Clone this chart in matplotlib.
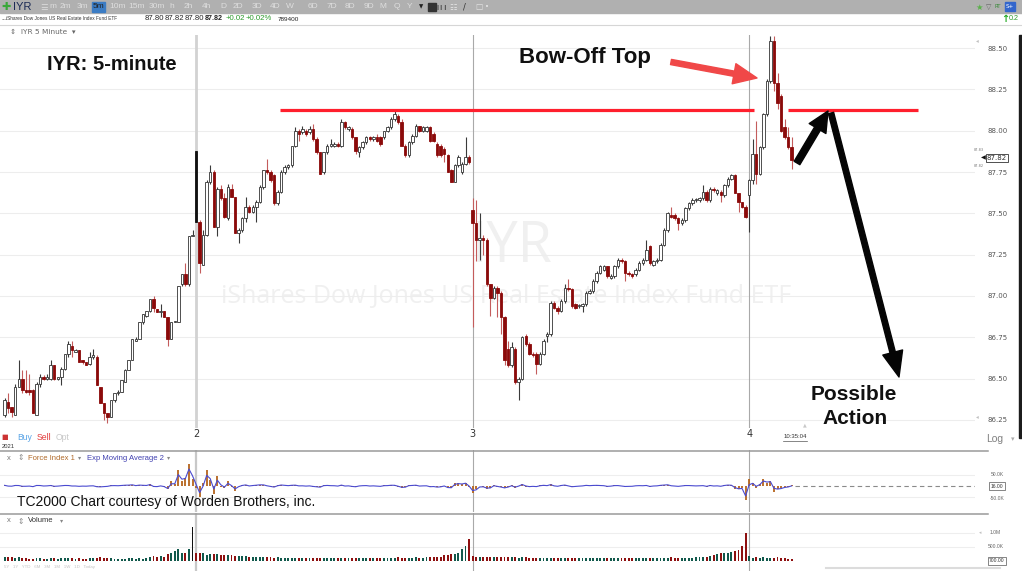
import numpy as np
import pandas as pd
import matplotlib
matplotlib.use("Agg")
import matplotlib.pyplot as plt
from matplotlib.patches import Rectangle

# ---------------- data (IYR 5-minute bars) ----------------
# day 1 (partial, 54 bars) | day 2 (78) | day 3 (78) | day 4 (13)
open_px = [
    86.28, 86.36, 86.33, 86.28, 86.45, 86.50, 86.43, 86.43, 86.43, 86.28,
    86.47, 86.51, 86.50, 86.50, 86.58, 86.50, 86.51, 86.56, 86.65, 86.70,
    86.66, 86.67, 86.61, 86.60, 86.59, 86.63, 86.63, 86.45, 86.35, 86.29,
    86.27, 86.37, 86.41, 86.42, 86.48, 86.55, 86.61, 86.73, 86.74, 86.84,
    86.88, 86.91, 86.98, 86.92, 86.90, 86.91, 86.87, 86.74, 86.84, 86.84,
    87.07, 87.13, 87.07, 87.36,
    87.88, 87.45, 87.19, 87.37, 87.69, 87.75, 87.42, 87.65, 87.59, 87.47,
    87.65, 87.60, 87.38, 87.40, 87.47, 87.54, 87.51, 87.54, 87.57, 87.66,
    87.76, 87.75, 87.73, 87.56, 87.63, 87.75, 87.78, 87.79, 87.91, 88.00,
    87.99, 88.00, 87.99, 88.01, 87.95, 87.87, 87.75, 87.87, 87.91, 87.91,
    87.92, 87.91, 88.05, 88.01, 88.01, 87.96, 87.87, 87.90, 87.93, 87.96,
    87.95, 87.96, 87.96, 87.96, 88.00, 88.02, 88.07, 88.09, 88.05, 87.91,
    87.85, 87.93, 87.97, 88.03, 88.00, 88.00, 88.02, 87.98, 87.92, 87.91,
    87.89, 87.85, 87.76, 87.69, 87.79, 87.75, 87.80, 87.84,
    87.52, 87.44, 87.34, 87.35, 87.34, 87.07, 86.99, 87.05, 87.02, 86.87,
    86.68, 86.58, 86.68, 86.48, 86.50, 86.76, 86.71, 86.65, 86.65, 86.59,
    86.65, 86.76, 86.77, 86.96, 86.93, 86.91, 86.97, 87.05, 87.04, 86.95,
    86.94, 86.94, 86.95, 87.02, 87.03, 87.09, 87.14, 87.16, 87.18, 87.11,
    87.12, 87.18, 87.22, 87.21, 87.14, 87.13, 87.13, 87.16, 87.20, 87.22,
    87.30, 87.19, 87.21, 87.22, 87.31, 87.40, 87.49, 87.49, 87.47, 87.44,
    87.46, 87.53, 87.56, 87.58, 87.58, 87.59, 87.63, 87.58, 87.65, 87.62,
    87.63, 87.61, 87.67, 87.71, 87.73, 87.62, 87.57, 87.54,
    87.61, 87.70, 87.86, 87.74, 87.90, 88.10, 88.30, 88.54, 88.29, 88.21,
    88.02, 87.96, 87.90,
]
high_px = [
    86.38, 86.41, 86.33, 86.47, 86.61, 86.55, 86.55, 86.53, 86.44, 86.48,
    86.53, 86.52, 86.53, 86.61, 86.58, 86.51, 86.57, 86.65, 86.73, 86.73,
    86.68, 86.67, 86.61, 86.60, 86.66, 86.68, 86.64, 86.45, 86.35, 86.29,
    86.37, 86.41, 86.43, 86.49, 86.56, 86.61, 86.74, 86.75, 86.84, 86.89,
    86.91, 86.98, 87.00, 86.92, 86.95, 86.91, 86.87, 86.84, 86.85, 87.06,
    87.13, 87.20, 87.36, 87.40,
    87.88, 87.46, 87.40, 87.70, 87.79, 87.76, 87.66, 87.67, 87.62, 87.68,
    87.68, 87.60, 87.41, 87.48, 87.60, 87.55, 87.55, 87.58, 87.67, 87.76,
    87.83, 87.76, 87.74, 87.64, 87.76, 87.79, 87.80, 87.91, 88.02, 88.01,
    88.03, 88.01, 88.03, 88.04, 87.96, 87.87, 87.87, 87.92, 87.95, 87.93,
    87.93, 88.07, 88.06, 88.03, 88.02, 87.96, 87.91, 87.94, 87.97, 87.97,
    87.97, 87.98, 87.97, 88.00, 88.03, 88.08, 88.12, 88.10, 88.07, 87.92,
    87.94, 87.98, 88.04, 88.03, 88.03, 88.03, 88.03, 87.99, 87.93, 87.92,
    87.90, 87.86, 87.77, 87.80, 87.85, 87.81, 87.96, 87.85,
    87.59, 87.58, 87.50, 87.37, 87.35, 87.07, 87.06, 87.06, 87.03, 86.88,
    86.73, 86.72, 86.69, 86.51, 86.76, 86.77, 86.72, 86.66, 86.66, 86.66,
    86.74, 86.78, 86.97, 86.97, 86.94, 86.98, 87.07, 87.10, 87.05, 86.96,
    86.95, 86.96, 87.03, 87.04, 87.10, 87.15, 87.19, 87.19, 87.18, 87.13,
    87.19, 87.23, 87.23, 87.22, 87.15, 87.14, 87.17, 87.21, 87.23, 87.34,
    87.31, 87.22, 87.23, 87.32, 87.41, 87.51, 87.54, 87.50, 87.48, 87.47,
    87.54, 87.57, 87.59, 87.59, 87.60, 87.67, 87.64, 87.66, 87.66, 87.65,
    87.64, 87.68, 87.72, 87.74, 87.74, 87.62, 87.57, 87.55,
    87.71, 87.95, 88.06, 87.91, 88.11, 88.31, 88.57, 88.57, 88.35, 88.22,
    88.07, 88.02, 87.96,
]
low_px = [
    86.27, 86.29, 86.27, 86.28, 86.45, 86.41, 86.41, 86.40, 86.29, 86.28,
    86.45, 86.49, 86.49, 86.49, 86.49, 86.49, 86.46, 86.55, 86.63, 86.63,
    86.66, 86.60, 86.59, 86.58, 86.58, 86.62, 86.46, 86.35, 86.25, 86.23,
    86.27, 86.36, 86.40, 86.42, 86.48, 86.55, 86.61, 86.73, 86.74, 86.83,
    86.87, 86.90, 86.90, 86.90, 86.87, 86.87, 86.70, 86.74, 86.84, 86.84,
    87.06, 87.06, 87.06, 87.36,
    87.45, 87.14, 87.19, 87.36, 87.68, 87.42, 87.36, 87.58, 87.47, 87.46,
    87.60, 87.38, 87.32, 87.39, 87.45, 87.50, 87.50, 87.45, 87.56, 87.65,
    87.74, 87.69, 87.55, 87.55, 87.62, 87.74, 87.77, 87.78, 87.90, 87.94,
    87.98, 87.97, 87.98, 87.94, 87.86, 87.74, 87.74, 87.86, 87.90, 87.90,
    87.90, 87.90, 88.01, 88.00, 87.95, 87.86, 87.84, 87.89, 87.92, 87.94,
    87.94, 87.93, 87.91, 87.95, 87.99, 88.01, 88.06, 88.04, 87.91, 87.84,
    87.84, 87.92, 87.96, 87.99, 87.99, 87.99, 87.93, 87.93, 87.84, 87.84,
    87.81, 87.75, 87.69, 87.69, 87.78, 87.74, 87.79, 87.80,
    86.81, 87.21, 87.22, 87.25, 87.06, 86.88, 86.98, 86.87, 86.77, 86.58,
    86.57, 86.57, 86.47, 86.37, 86.49, 86.70, 86.64, 86.63, 86.53, 86.58,
    86.64, 86.72, 86.76, 86.92, 86.89, 86.90, 86.96, 87.03, 86.93, 86.92,
    86.93, 86.90, 86.94, 87.01, 87.02, 87.08, 87.13, 87.15, 87.11, 87.10,
    87.11, 87.17, 87.20, 87.09, 87.12, 87.11, 87.12, 87.15, 87.19, 87.21,
    87.19, 87.18, 87.20, 87.21, 87.30, 87.39, 87.47, 87.46, 87.40, 87.43,
    87.45, 87.52, 87.55, 87.57, 87.57, 87.58, 87.57, 87.57, 87.63, 87.61,
    87.57, 87.60, 87.66, 87.70, 87.62, 87.51, 87.53, 87.47,
    87.39, 87.68, 87.68, 87.73, 87.89, 88.09, 88.29, 88.24, 88.13, 87.99,
    87.95, 87.89, 87.77,
]
close_px = [
    86.37, 86.32, 86.30, 86.45, 86.50, 86.43, 86.42, 86.42, 86.29, 86.47,
    86.51, 86.50, 86.51, 86.58, 86.50, 86.51, 86.56, 86.65, 86.71, 86.67,
    86.67, 86.60, 86.60, 86.58, 86.63, 86.64, 86.46, 86.35, 86.29, 86.27,
    86.37, 86.41, 86.42, 86.49, 86.55, 86.61, 86.74, 86.74, 86.84, 86.89,
    86.91, 86.98, 86.93, 86.90, 86.91, 86.87, 86.74, 86.84, 86.85, 87.06,
    87.13, 87.07, 87.36, 87.37,
    87.45, 87.20, 87.37, 87.69, 87.75, 87.42, 87.65, 87.59, 87.48, 87.66,
    87.60, 87.38, 87.40, 87.47, 87.54, 87.51, 87.54, 87.57, 87.66, 87.76,
    87.75, 87.70, 87.56, 87.63, 87.75, 87.78, 87.79, 87.91, 88.00, 87.98,
    88.01, 87.98, 88.01, 87.95, 87.87, 87.74, 87.87, 87.91, 87.92, 87.92,
    87.91, 88.05, 88.02, 88.02, 87.96, 87.88, 87.90, 87.93, 87.96, 87.95,
    87.96, 87.94, 87.92, 88.00, 88.02, 88.07, 88.10, 88.05, 87.91, 87.85,
    87.93, 87.97, 88.03, 88.00, 88.02, 88.02, 87.94, 87.94, 87.85, 87.85,
    87.86, 87.75, 87.69, 87.79, 87.84, 87.80, 87.84, 87.81,
    87.44, 87.34, 87.35, 87.34, 87.07, 86.99, 87.05, 87.02, 86.87, 86.61,
    86.58, 86.69, 86.48, 86.50, 86.75, 86.71, 86.65, 86.64, 86.59, 86.65,
    86.73, 86.77, 86.96, 86.93, 86.91, 86.97, 87.05, 87.04, 86.94, 86.93,
    86.94, 86.95, 87.02, 87.03, 87.09, 87.14, 87.18, 87.18, 87.12, 87.12,
    87.18, 87.22, 87.21, 87.14, 87.13, 87.12, 87.16, 87.20, 87.22, 87.28,
    87.20, 87.21, 87.22, 87.31, 87.40, 87.50, 87.48, 87.47, 87.44, 87.46,
    87.53, 87.56, 87.58, 87.58, 87.59, 87.63, 87.58, 87.65, 87.64, 87.64,
    87.61, 87.67, 87.71, 87.73, 87.62, 87.57, 87.54, 87.48,
    87.70, 87.86, 87.74, 87.90, 88.10, 88.30, 88.54, 88.29, 88.17, 88.00,
    87.96, 87.90, 87.82,
]
# volume in thousands
volume_k = [
    160, 140, 130, 120, 150, 120, 90, 80, 80, 110,
    90, 70, 70, 100, 110, 80, 90, 110, 100, 90,
    80, 90, 80, 70, 90, 100, 120, 130, 100, 90,
    90, 80, 70, 70, 80, 90, 100, 80, 90, 80,
    100, 130, 180, 150, 170, 160, 250, 290, 340, 420,
    280, 300, 430, 1220,
    300, 270, 280, 230, 260, 240, 250, 220, 230, 210,
    200, 190, 180, 180, 170, 160, 150, 160, 140, 150,
    130, 140, 120, 130, 120, 110, 120, 110, 100, 110,
    100, 110, 100, 90, 100, 110, 100, 90, 100, 110,
    120, 100, 110, 100, 90, 100, 110, 100, 90, 100,
    110, 100, 120, 110, 100, 110, 120, 130, 110, 100,
    110, 120, 130, 110, 120, 140, 130, 150, 160, 140,
    200, 220, 260, 250, 280, 430, 540, 790,
    180, 160, 150, 140, 160, 150, 130, 140, 150, 160,
    140, 150, 130, 120, 140, 130, 120, 110, 120, 100,
    110, 100, 120, 110, 100, 110, 120, 100, 90, 100,
    110, 100, 90, 100, 90, 100, 110, 100, 90, 110,
    100, 90, 100, 110, 100, 90, 100, 110, 120, 100,
    110, 100, 90, 120, 110, 100, 130, 120, 110, 100,
    120, 100, 110, 130, 140, 150, 160, 180,
    220, 250, 270, 280, 300, 330, 360, 380, 520, 1000,
    180, 120, 140, 100, 160, 120, 110, 90, 140, 100,
    90, 80, 60,
]
# Force Index 1, thousands
force_k = [
    3, -2, -1, 4, 2, -3, -1, 0, -4, 5,
    2, -1, 1, 3, -3, 0, 2, 3, 2, -1,
    0, -2, 0, -1, 1, 1, -5, -4, -2, -1,
    3, 2, 1, 3, 4, 4, 6, 0, 5, 3,
    2, 8, -6, -3, 2, -4, -15, 20, 10, 70,
    20, 35, 95, 30,
    -10, -48, 15, 70, 25, -36, 45, -5, -10, 20,
    -3, -20, 2, 5, 6, -2, 3, 4, 6, 5,
    -1, -3, -6, 4, 6, 2, 1, 4, 4, -1,
    1, -1, 1, -3, -4, -6, 5, 3, 1, 1,
    -1, 6, -2, 1, -3, -4, 2, 2, 2, -1,
    1, -1, -2, 3, 2, 4, 3, -3, -8, -5,
    5, 3, 4, -2, 1, 1, -5, -2, -6, -3,
    2, -10, -8, 15, 12, 8, 14, -6,
    -30, -15, 2, -3, -12, -8, 6, -3, -6, -10,
    -3, 4, -8, 2, 10, -3, -4, -1, -3, 3,
    4, 1, 8, -2, -2, 4, 5, -1, -5, -1,
    0, 1, 4, 1, 3, 3, 2, 1, -3, 0,
    3, 2, -1, -3, -1, -1, 2, 2, 1, 3,
    -4, 1, 1, 4, 5, 6, -1, -1, -2, 1,
    3, 2, 1, 0, 1, 2, -3, 4, -1, 1,
    -2, 4, 5, 3, -12, -15, -10, -60,
    30, 15, -8, 10, 30, 15, 20, -25, -15, -10,
    -4, -3, 3,
]
day_starts = [54, 132, 210]
day_labels = ["2", "3", "4"]
gap_bar = 54          # black filled opening candle
black_vol_bar = 53    # black closing-volume bar
resistance = 88.125
price_ticks = [86.25, 86.50, 86.75, 87.00, 87.25, 87.50, 87.75, 88.00, 88.25, 88.50]

W, H = 1022, 571
UI = "Liberation Sans"


def px_rect(x0, y0, x1, y1):
    return [x0 / W, 1 - y1 / H, (x1 - x0) / W, (y1 - y0) / H]


o = np.array(open_px); h = np.array(high_px); l = np.array(low_px); c = np.array(close_px)
x = np.arange(len(c))
up = c >= o
XLIM = (-1.3, 273.7)

fig = plt.figure(figsize=(W / 100, H / 100), dpi=100)
fig.patch.set_facecolor("white")

# === price panel ===
ax = fig.add_axes(px_rect(0, 35, 975, 428))
ax.set_xlim(*XLIM)
ax.set_ylim(86.201, 88.579)
for s in ax.spines.values():
    s.set_visible(False)
ax.set_yticks(price_ticks)
ax.set_yticklabels([f"{p:.2f}" for p in price_ticks])
ax.yaxis.tick_right()
ax.tick_params(axis="y", length=0, pad=9, labelsize=5, labelcolor="#555555")
ax.set_xticks(day_starts)
ax.set_xticklabels(day_labels)
ax.tick_params(axis="x", length=0, pad=1, labelsize=7, labelcolor="#333333")
ax.grid(axis="y", color="#ededed", lw=0.8)
ax.set_axisbelow(True)

for k, d in enumerate(day_starts):
    if k == 0:
        ax.axvline(d, color="#d2d2d2", lw=2.0, zorder=1)
    else:
        ax.axvline(d, color="#a9a9a9", lw=0.8, zorder=1)

wick_col = np.where(up, "#3a3a3a", "#c45c5c").astype(object)
face = np.where(up, "white", "#8b0a0a").astype(object)
edge = np.where(up, "#333333", "#8b0a0a").astype(object)
face[gap_bar] = "#111111"
edge[gap_bar] = "#111111"
wick_col[gap_bar] = "#111111"
body_lo = np.minimum(o, c)
body_h = np.maximum(np.abs(c - o), 0.004)
ax.vlines(x, l, h, colors=list(wick_col), lw=0.8, zorder=3)
ax.bar(x, body_h, 0.7, bottom=body_lo, color=list(face), edgecolor=list(edge),
       linewidth=0.6, zorder=4)

# resistance line (two segments)
ax.plot([77.7, 211.4], [resistance, resistance], color="#ff1f2d", lw=2.3,
        solid_capstyle="butt", zorder=5)
ax.plot([221.0, 257.7], [resistance, resistance], color="#ff1f2d", lw=2.3,
        solid_capstyle="butt", zorder=5)

# === force index panel ===
axf = fig.add_axes(px_rect(0, 450, 975, 512))
axf.set_xlim(*XLIM)
axf.set_ylim(-114, 158)
axf.axis("off")
for yy in (-50, 50):
    axf.axhline(yy, color="#eeeeee", lw=0.8, zorder=0)
for k, d in enumerate(day_starts):
    axf.axvline(d, color="#c8c8c8" if k == 0 else "#a9a9a9", lw=1.6 if k == 0 else 0.8, zorder=1)
ema = pd.Series(force_k, dtype=float).ewm(span=2, adjust=False).mean()
axf.vlines(x, 0, force_k, colors="#b5651d", lw=1.3, zorder=2)
axf.plot(x, ema, color="#4a4ad0", lw=0.8, zorder=3)
axf.plot([x[-1] + 1, XLIM[1]], [0, 0], color="#8a8a8a", lw=0.8, ls=(0, (4, 3)))

# === volume panel ===
axv = fig.add_axes(px_rect(0, 513, 975, 571))
axv.set_xlim(*XLIM)
axv.set_ylim(-357, 1714)
axv.axis("off")
for yy in (500, 1000):
    axv.axhline(yy, color="#eeeeee", lw=0.8, zorder=0)
for k, d in enumerate(day_starts):
    axv.axvline(d, color="#c8c8c8" if k == 0 else "#a9a9a9", lw=1.6 if k == 0 else 0.8, zorder=1)
vol_col = np.where(up, "#11594c", "#8e1010").astype(object)
vol_col[black_vol_bar] = "#111111"
axv.bar(x, volume_k, 0.55, color=list(vol_col), zorder=2)

# === overlay in pixel coordinates: chrome, labels, annotations ===
ov = fig.add_axes([0, 0, 1, 1], zorder=10)
ov.set_xlim(0, W)
ov.set_ylim(H, 0)
ov.axis("off")
ov.patch.set_alpha(0)

# watermark (behind candles)
ax.text(512, 247, "IYR", transform=ov.transData, fontsize=40, color="#f0f0f0",
        family="Open Sans", ha="center", va="center", zorder=0.5)
ax.text(506, 297, "iShares Dow Jones US Real Estate Index Fund ETF", transform=ov.transData,
        fontsize=18, color="#f0f0f0", family="Open Sans", ha="center", va="center", zorder=0.5)

# toolbar
ov.add_patch(Rectangle((0, 0), W, 13, color="#b0b0b0", zorder=0))
ov.text(6, 7, "\u271a", fontsize=8, color="#3aa83a", ha="center", va="center")
ov.text(13, 7, "IYR", fontsize=8, color="#1b2a55", ha="left", va="center", family=UI)
ov.text(44, 7, "\u2630", fontsize=6, color="#dcdcdc", ha="center", va="center", family="DejaVu Sans")
ov.add_patch(Rectangle((92, 1.5), 13, 10, color="#3b7cc4", zorder=1))
tf_labels = ["m", "2m", "3m", "5m", "10m", "15m", "30m", "h", "2h", "4h", "D", "2D", "3D",
             "4D", "W", "6D", "7D", "8D", "9D", "M", "Q", "Y"]
tf_x = [53, 65, 82, 98.5, 118, 137, 157, 172, 188, 207, 223, 238, 257, 275, 290, 313, 332,
        350, 369, 383, 397, 410]
for lab, xx in zip(tf_labels, tf_x):
    ov.text(xx, 7, lab, fontsize=6, color="#222222" if lab == "5m" else "#dedede",
            ha="center", va="center", family=UI, zorder=2)
ov.text(421, 7, "\u25bc", fontsize=4, color="#222222", ha="center", va="center", family="DejaVu Sans")
ov.add_patch(Rectangle((428, 3), 8, 8, color="#333333", zorder=1))
ov.text(442, 7, "\u2759\u2759\u2759", fontsize=3.5, color="#333333", ha="center", va="center")
ov.text(453, 7, "\u2637", fontsize=6, color="#e6e6e6", ha="center", va="center", family="DejaVu Sans")
ov.text(464, 7, "/", fontsize=6, color="#333333", ha="center", va="center")
ov.text(479, 7, "\u25a1", fontsize=5.5, color="#e6e6e6", ha="center", va="center", family="DejaVu Sans")
ov.text(487, 7, "\u2022", fontsize=5, color="#e6e6e6", ha="center", va="center", family="DejaVu Sans")
ov.text(979, 7, "\u2605", fontsize=6, color="#5ab04a", ha="center", va="center", family="DejaVu Sans")
ov.text(989, 7, "\u25bd", fontsize=5, color="#666666", ha="center", va="center", family="DejaVu Sans")
ov.text(998, 7, "RT", fontsize=3.8, color="#3a8a3a", ha="center", va="center")
ov.add_patch(Rectangle((1005, 2), 10, 9, color="#3366cc", zorder=1))
ov.text(1010, 6.5, "S+", fontsize=4, color="white", ha="center", va="center", zorder=2)

# quote line
ov.text(1, 19, "...", fontsize=5, color="#333333", ha="left", va="center", family=UI)
ov.text(6, 19, "iShares Dow Jones US Real Estate Index Fund ETF", fontsize=3.4, color="#333333",
        ha="left", va="center", family=UI)
quote_vals = ["87.80", "87.82", "87.80"]
for xx, q in zip([145, 165, 185], quote_vals):
    ov.text(xx, 19, q, fontsize=5.6, color="#222222", ha="left", va="center", family=UI)
ov.text(205, 19, "87.82", fontsize=5.1, color="#222222", ha="left", va="center", weight="bold",
        family=UI)
ov.text(226, 19, "+0.02", fontsize=5.6, color="#2a9a2a", ha="left", va="center", family=UI)
ov.text(246, 19, "+0.02%", fontsize=5.6, color="#2a9a2a", ha="left", va="center", family=UI)
ov.text(278, 19.5, "789400", fontsize=4.6, color="#222222", ha="left", va="center", family=UI)
ov.text(1005, 19, "\u2191", fontsize=7, color="#22aa22", ha="center", va="center",
        weight="bold", family="DejaVu Sans")
ov.text(1009, 19, "0.2", fontsize=5.2, color="#2a9a2a", ha="left", va="center", family=UI)
ov.plot([0, W], [24.5, 24.5], color="#d6d6d6", lw=0.8)
ov.text(10, 32, "\u21d5  IYR 5 Minute  \u25be", fontsize=5.3, color="#666666", ha="left",
        va="center", family="DejaVu Sans")

# right edge dark bar + price marker
ov.add_patch(Rectangle((1018.5, 35), 3.5, 403, color="#1c1c1c"))
ov.text(977, 41, "\u25c2", fontsize=4, color="#c0c0c0", ha="center", va="center", family="DejaVu Sans")
ov.text(977, 417, "\u25c2", fontsize=4, color="#c0c0c0", ha="center", va="center", family="DejaVu Sans")
ov.text(983, 158, "\u25c0", fontsize=4.5, color="#111111", ha="center", va="center", family="DejaVu Sans")
ov.text(997, 158, "87.82", fontsize=5, color="#333333", ha="center", va="center",
        bbox=dict(boxstyle="square,pad=0.15", fc="white", ec="#333333", lw=0.6))
ov.text(979, 150, "87.83", fontsize=2.5, color="#777777", ha="center", va="center")
ov.text(979, 166, "87.82", fontsize=2.5, color="#777777", ha="center", va="center")

# under price panel
ov.text(5, 437, "\u25a0", fontsize=5, color="#cc3333", ha="center", va="center", family="DejaVu Sans")
ov.text(17, 438, "Buy", fontsize=6.2, color="#5aa4e6", ha="left", va="center", family=UI)
ov.text(37, 438, "Sell", fontsize=6.2, color="#e23a3a", ha="left", va="center", family=UI)
ov.text(56, 438, "Opt", fontsize=6.2, color="#c8c8c8", ha="left", va="center", family=UI)
ov.text(2, 446, "2021", fontsize=4.2, color="#333333", ha="left", va="center", family=UI)
ov.text(795, 437, "10:35:04", fontsize=4.3, color="#333333", ha="center", va="center", family=UI)
ov.plot([783, 807], [441, 441], color="#555555", lw=0.5)
ov.text(805, 425, "\u25b2", fontsize=3.5, color="#c8c8c8", ha="center", va="center", family="DejaVu Sans")
ov.text(995, 439, "Log", fontsize=7.5, color="#808080", ha="center", va="center", family=UI)
ov.text(1013, 439, "\u25be", fontsize=5, color="#aaaaaa", ha="center", va="center", family="DejaVu Sans")

# panel separators
ov.plot([0, 988], [450.5, 450.5], color="#9a9a9a", lw=1.1)
ov.plot([0, 988], [513.5, 513.5], color="#9a9a9a", lw=1.1)

# force index header + labels
ov.text(9, 458, "x", fontsize=5.5, color="#777777", ha="center", va="center", family=UI)
ov.text(21, 458, "\u21d5", fontsize=5.5, color="#888888", ha="center", va="center", family="DejaVu Sans")
ov.text(28, 458, "Force Index 1", fontsize=5.5, color="#b06a2a", ha="left", va="center", family=UI)
ov.text(80, 458, "\u25be", fontsize=4.5, color="#888888", ha="center", va="center", family="DejaVu Sans")
ov.text(87, 458, "Exp Moving Average 2", fontsize=5.5, color="#4040b0", ha="left", va="center",
        family=UI)
ov.text(169, 458, "\u25be", fontsize=4.5, color="#888888", ha="center", va="center", family="DejaVu Sans")
ov.text(997, 475, "50.0K", fontsize=3.6, color="#666666", ha="center", va="center", family=UI)
ov.text(997, 486, "16.00", fontsize=3.6, color="#333333", ha="center", va="center", family=UI,
        bbox=dict(boxstyle="square,pad=0.25", fc="white", ec="#555555", lw=0.5))
ov.text(997, 498, "-50.0K", fontsize=3.6, color="#666666", ha="center", va="center", family=UI)
ov.text(17, 502, "TC2000 Chart courtesy of Worden Brothers, inc.", fontsize=10,
        family=UI, color="#111111", ha="left", va="center")

# volume header + labels
ov.text(9, 521, "x", fontsize=5.5, color="#777777", ha="center", va="center", family=UI)
ov.text(21, 521, "\u21d5", fontsize=5.5, color="#888888", ha="center", va="center", family="DejaVu Sans")
ov.text(28, 521, "Volume", fontsize=5.5, color="#333333", ha="left", va="center", family=UI)
ov.text(62, 521, "\u25be", fontsize=4.5, color="#888888", ha="center", va="center", family="DejaVu Sans")
ov.text(980, 533, "\u25c2", fontsize=3.5, color="#c0c0c0", ha="center", va="center", family="DejaVu Sans")
ov.text(990, 533, "1.0M", fontsize=3.6, color="#666666", ha="left", va="center", family=UI)
ov.text(988, 547, "500.0K", fontsize=3.6, color="#666666", ha="left", va="center", family=UI)
ov.text(997, 561, "700.00", fontsize=3.6, color="#333333", ha="center", va="center", family=UI,
        bbox=dict(boxstyle="square,pad=0.25", fc="white", ec="#555555", lw=0.5))
ov.text(4, 567, "5Y   1Y   YTD   6M   3M   1M   1W   1D   Today", fontsize=3.2,
        color="#c4c4c4", ha="left", va="center", family=UI)
ov.plot([826, 1000], [568, 568], color="#dcdcdc", lw=1.5)

# annotations
ov.text(47, 64, "IYR: 5-minute", fontsize=14.5, weight="bold", family=UI,
        color="#111111", ha="left", va="center")
ov.text(519, 58, "Bow-Off Top", fontsize=16, weight="bold", family=UI,
        color="#111111", ha="left", va="center")
ov.text(854, 394, "Possible", fontsize=15, weight="bold", family=UI,
        color="#111111", ha="center", va="center")
ov.text(855, 418, "Action", fontsize=15, weight="bold", family=UI,
        color="#111111", ha="center", va="center")

ov.annotate("", xy=(757, 78), xytext=(671, 62),
            arrowprops=dict(arrowstyle="simple,head_length=1.2,head_width=1.05,tail_width=0.27",
                            color="#f04848", mutation_scale=14, shrinkA=0, shrinkB=0))
ov.annotate("", xy=(828, 111), xytext=(797, 163),
            arrowprops=dict(arrowstyle="simple,head_length=1.05,head_width=1.0,tail_width=0.34",
                            color="#050505", mutation_scale=14, shrinkA=0, shrinkB=0))
ov.annotate("", xy=(899, 377), xytext=(831, 113),
            arrowprops=dict(arrowstyle="simple,head_length=1.3,head_width=1.05,tail_width=0.28",
                            color="#050505", mutation_scale=14, shrinkA=0, shrinkB=0))

fig.savefig("out.png", dpi=100)
